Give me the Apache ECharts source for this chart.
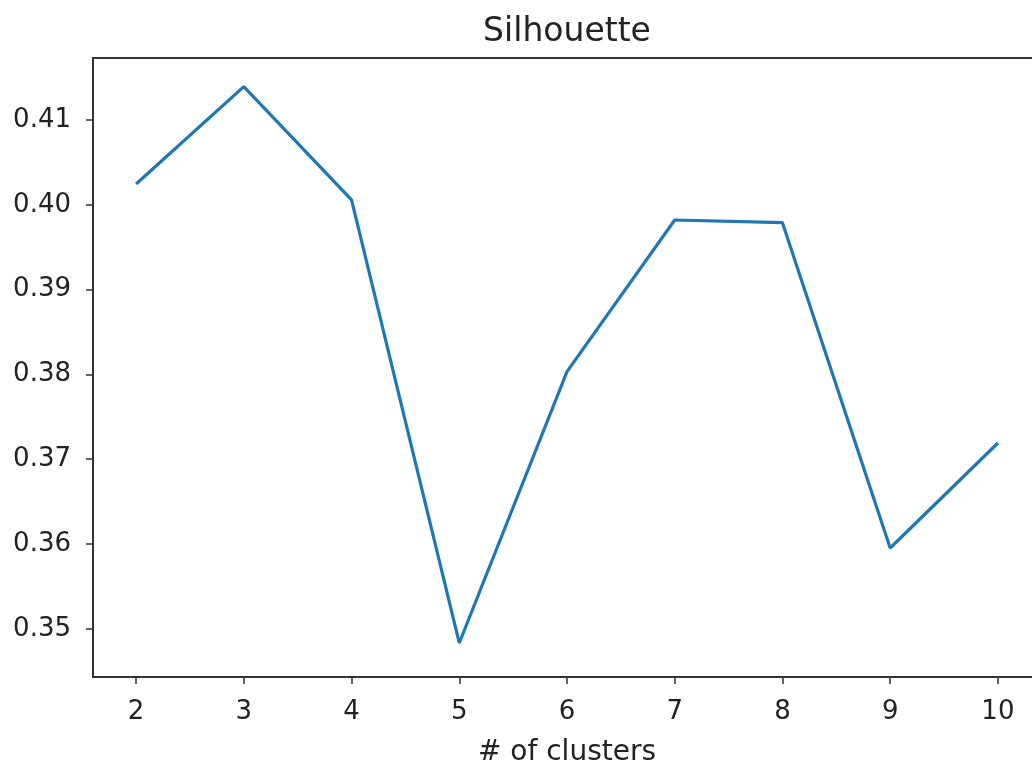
<!DOCTYPE html>
<html>
<head>
<meta charset="utf-8">
<script src="https://cdn.jsdelivr.net/npm/echarts@6/dist/echarts.min.js"></script>
<style>
html,body{margin:0;padding:0;background:#fff;}
#chart{width:1032px;height:764px;}
</style>
</head>
<body>
<div id="chart"></div>
<script>
const clusters = [2, 3, 4, 5, 6, 7, 8, 9, 10];
const silhouette = [0.40245, 0.41393, 0.40057, 0.34833, 0.38032, 0.39821, 0.39789, 0.35953, 0.37191];
const xTicks = [2, 3, 4, 5, 6, 7, 8, 9, 10];
const yTicks = [0.35, 0.36, 0.37, 0.38, 0.39, 0.40, 0.41];
const titleText = 'Silhouette';
const xName = '# of clusters';

const chart = echarts.init(document.getElementById('chart'));
const font = 'DejaVu Sans';
chart.setOption({
  backgroundColor: '#fff',
  animation: false,
  title: {
    text: titleText,
    left: 562,
    top: 11,
    textAlign: 'center',
    textStyle: {fontFamily: font, fontSize: 33, fontWeight: 'normal', color: '#222'}
  },
  grid: {
    left: 93, top: 58, width: 948, height: 619,
    outerBoundsMode: 'none',
    containLabel: false,
    show: true, borderColor: '#333', borderWidth: 2, backgroundColor: '#fff'
  },
  xAxis: {
    type: 'value',
    min: 1.6, max: 10.4,
    name: xName,
    nameLocation: 'middle',
    nameGap: 62,
    nameTextStyle: {fontFamily: font, fontSize: 28, color: '#222'},
    axisLine: {show: true, onZero: false, lineStyle: {color: '#333', width: 2}},
    axisTick: {show: true, customValues: xTicks, length: 7, lineStyle: {color: '#333', width: 1.5}},
    axisLabel: {customValues: xTicks, fontFamily: font, fontSize: 26, color: '#222', margin: 22},
    splitLine: {show: false}
  },
  yAxis: {
    type: 'value',
    min: 0.34432, max: 0.41731,
    axisLine: {show: true, onZero: false, lineStyle: {color: '#333', width: 2}},
    axisTick: {show: true, customValues: yTicks, length: 7, lineStyle: {color: '#333', width: 1.5}},
    axisLabel: {customValues: yTicks, fontFamily: font, fontSize: 26, color: '#222', margin: 22,
      formatter: v => v.toFixed(2)},
    splitLine: {show: false}
  },
  series: [{
    type: 'line',
    data: clusters.map((c, i) => [c, silhouette[i]]),
    showSymbol: false,
    lineStyle: {color: '#1f77b4', width: 3.2},
    itemStyle: {color: '#1f77b4'}
  }]
});
</script>
</body>
</html>
